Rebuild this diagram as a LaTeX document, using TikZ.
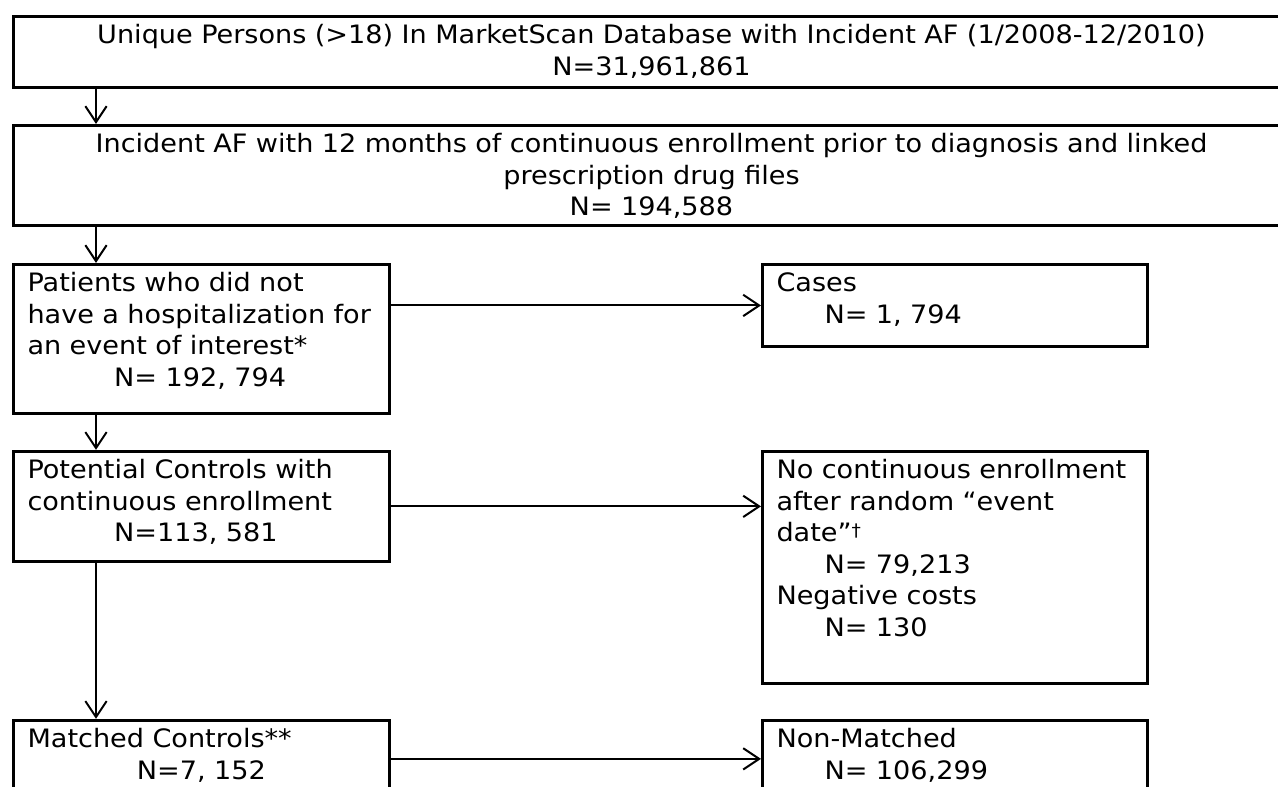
\documentclass[tikz,border=0pt]{standalone}
\usepackage{fontspec}
\setmainfont[FakeStretch=1.07]{DejaVu Sans}
\usetikzlibrary{arrows.meta, positioning}

\begin{document}
\begin{tikzpicture}[
		x=0.75pt, y=-0.75pt,
		every node/.style={font=\fontsize{19}{23.6}\selectfont},
		fbox/.style={
			rectangle, draw=black, line width=2.25pt,
			inner xsep=10.5pt, inner ysep=0pt,
			text height=20.6pt, text depth=#1,
			align=left
		},
		widebox/.style={fbox=#1, text width=936pt, align=center},
		leftbox/.style={fbox=#1, text width=261pt},
		rightbox/.style={fbox=#1, text width=267.75pt},
		arrow/.style={
			-{Straight Barb[length=12pt,width=16pt]},
			line width=1.5pt, draw=black
		}
		]
		
		\useasboundingbox (0,0) rectangle (1278,787);
		
		% Top rows
		\node[widebox=32.6pt, anchor=north west] (persons) at (12,15)
		{Unique Persons (>18) In MarketScan Database with Incident AF (1/2008-12/2010)\\N=31,961,861};
		\node[widebox=54.4pt, below right=26.25pt and 0pt of persons.south west] (incident)
		{Incident AF with 12 months of continuous enrollment prior to diagnosis and linked\\prescription drug files\\N= 194,588};
		
		% Left column
		\node[leftbox=91.1pt, below right=27pt and 0pt of incident.south west] (nohosp)
		{Patients who did not\\have a hospitalization for\\an event of interest*\\\hspace*{65pt}N= 192, 794};
		\node[leftbox=61.9pt, below right=26.25pt and 0pt of nohosp.south west] (potential)
		{Potential Controls with\\continuous enrollment\\\hspace*{65pt}N=113, 581};
		\node[leftbox=61.9pt, below right=117pt and 0pt of potential.south west] (matched)
		{Matched Controls**\\\hspace*{82pt}N=7, 152};
		
		% Right column
		\node[rightbox=40.9pt, below right=0pt and 277.5pt of nohosp.north east] (cases)
		{Cases\\\hspace*{36pt}N= 1, 794};
		\node[rightbox=153.4pt, below right=0pt and 277.5pt of potential.north east] (noenroll)
		{No continuous enrollment\\after random “event\\date”\raisebox{4pt}{\fontsize{13}{13}\selectfont †}\\\hspace*{36pt}N= 79,213\\Negative costs\\\hspace*{36pt}N= 130};
		\node[rightbox=61.9pt, below right=0pt and 277.5pt of matched.north east] (nonmatched)
		{Non-Matched\\\hspace*{36pt}N= 106,299};
		
		% Arrows
		\draw[arrow] ([xshift=63pt]persons.south west) -- ([xshift=63pt]incident.north west);
		\draw[arrow] ([xshift=63pt]incident.south west) -- ([xshift=63pt]nohosp.north west);
		\draw[arrow] ([xshift=63pt]nohosp.south west) -- ([xshift=63pt]potential.north west);
		\draw[arrow] ([xshift=63pt]potential.south west) -- ([xshift=63pt]matched.north west);
		\draw[arrow] (nohosp.east |- cases.west) -- (cases.west);
		\draw[arrow] (potential.east) -- (potential.east -| noenroll.west);
		\draw[arrow] ([yshift=-30pt]matched.north east) -- ([yshift=-30pt]nonmatched.north west);
		
	\end{tikzpicture}
\end{document}
